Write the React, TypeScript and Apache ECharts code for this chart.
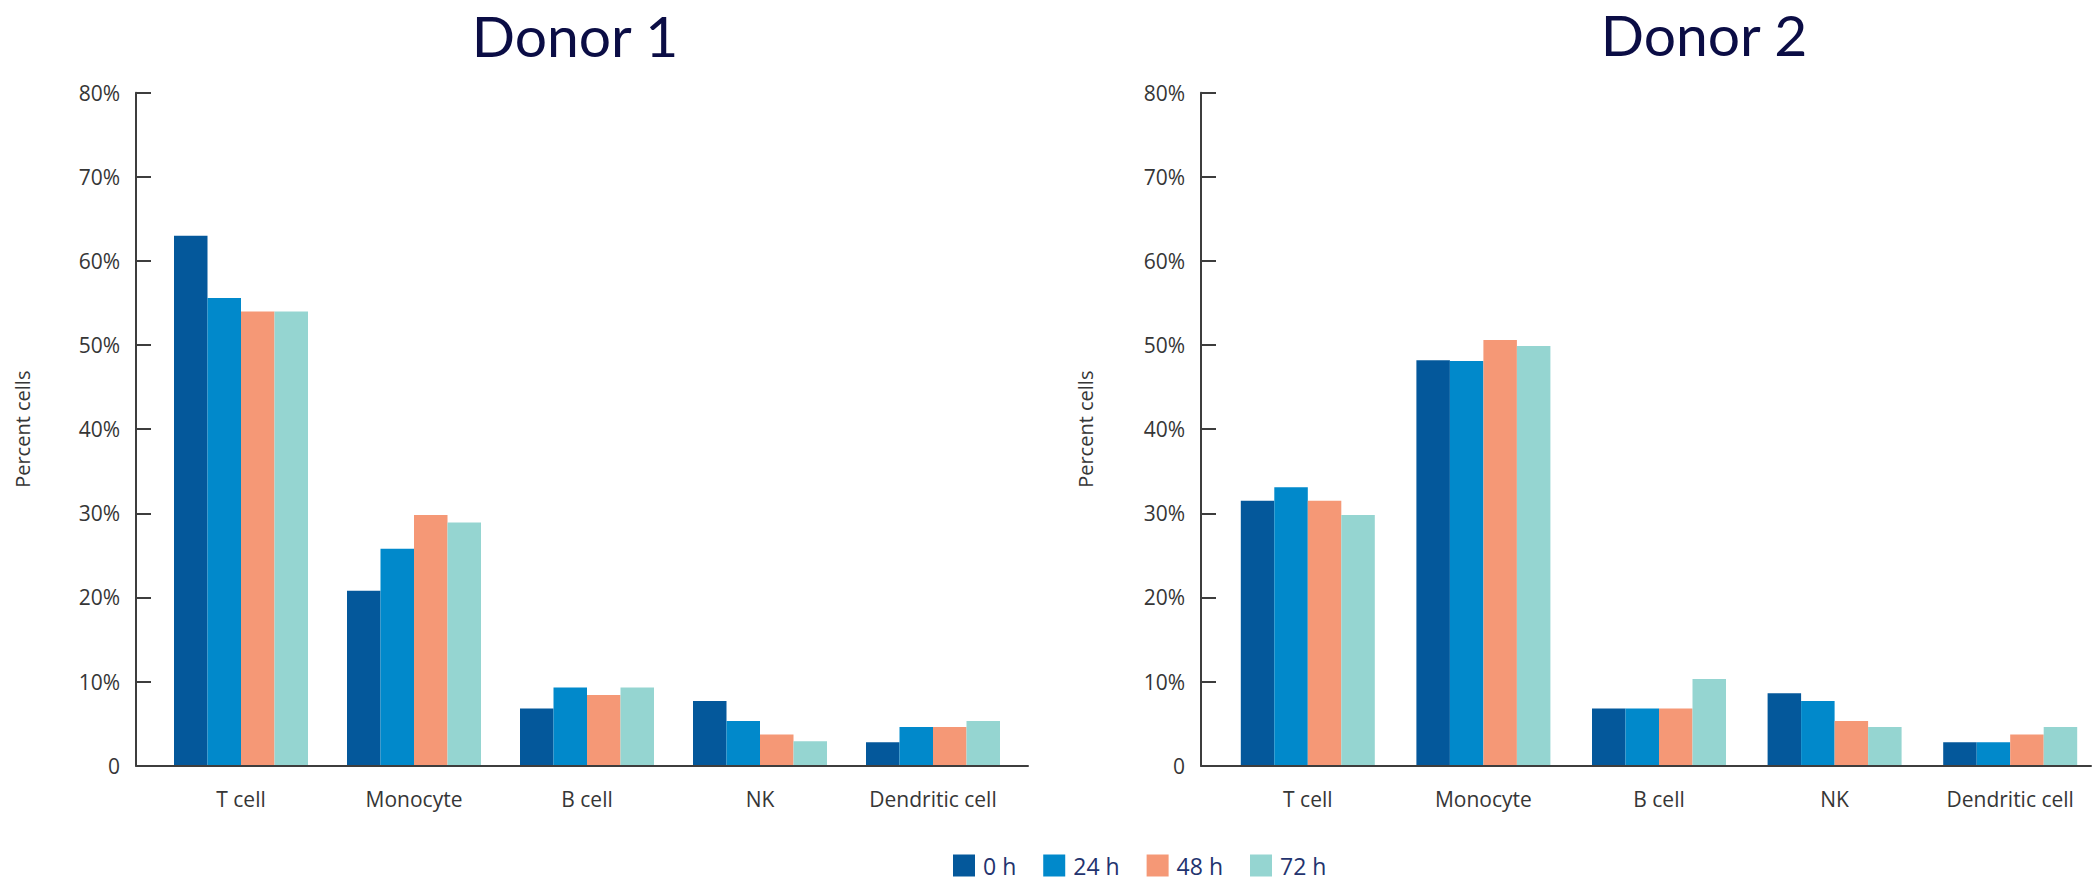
import React, { useEffect, useRef } from "react";
import * as echarts from "echarts";

const categories = ["T cell", "Monocyte", "B cell", "NK", "Dendritic cell"];
const timepoints = ["0 h", "24 h", "48 h", "72 h"];
const colors = ["#04589b", "#0189cb", "#f59876", "#95d5d1"];
const yTicks = [0, 10, 20, 30, 40, 50, 60, 70, 80];

const donor1_0h = [63.0, 20.8, 6.8, 7.7, 2.8];
const donor1_24h = [55.6, 25.8, 9.3, 5.3, 4.6];
const donor1_48h = [54.0, 29.8, 8.4, 3.7, 4.6];
const donor1_72h = [54.0, 28.9, 9.3, 2.9, 5.3];

const donor2_0h = [31.5, 48.2, 6.8, 8.6, 2.8];
const donor2_24h = [33.1, 48.1, 6.8, 7.7, 2.8];
const donor2_48h = [31.5, 50.6, 6.8, 5.3, 3.7];
const donor2_72h = [29.8, 49.9, 10.3, 4.6, 4.6];

const donor1 = [donor1_0h, donor1_24h, donor1_48h, donor1_72h];
const donor2 = [donor2_0h, donor2_24h, donor2_48h, donor2_72h];

const FONT = "'Open Sans', 'Noto Sans', sans-serif";
const AXIS_COLOR = "#3d3d3d";
const TEXT_COLOR = "#363636";

export default function App() {
  const ref = useRef<HTMLDivElement>(null);

  useEffect(() => {
    if (!ref.current) return;
    const chart = echarts.init(ref.current, undefined, { renderer: "svg" });

    const top = 92.7;
    const height = 673;

    const barXAxis = (gridIndex: number) => ({
      type: "category",
      gridIndex,
      data: categories,
      axisLine: { show: false },
      axisTick: { show: false },
      axisLabel: { color: TEXT_COLOR, fontSize: 21, fontFamily: FONT, margin: 23 },
      splitLine: { show: false },
    });
    const frameXAxis = (gridIndex: number) => ({
      type: "value",
      gridIndex,
      min: 0,
      max: 1,
      z: 5,
      axisLine: { show: true, lineStyle: { color: AXIS_COLOR, width: 2 } },
      axisTick: { show: false },
      axisLabel: { show: false },
      splitLine: { show: false },
    });
    const hiddenYAxis = (gridIndex: number) => ({
      type: "value",
      gridIndex,
      min: yTicks[0],
      max: yTicks[yTicks.length - 1],
      show: false,
    });
    const frameYAxis = (gridIndex: number, gap: number) => ({
      type: "value",
      gridIndex,
      min: yTicks[0],
      max: yTicks[yTicks.length - 1],
      interval: 10,
      z: 5,
      name: "Percent cells",
      nameLocation: "middle",
      nameGap: gap,
      nameTextStyle: { color: TEXT_COLOR, fontSize: 20, fontFamily: FONT, padding: [0, 0, 26, 0] },
      axisLine: { show: true, lineStyle: { color: AXIS_COLOR, width: 2 } },
      axisTick: { show: true, inside: true, length: 15, lineStyle: { color: AXIS_COLOR, width: 2 } },
      axisLabel: {
        color: TEXT_COLOR,
        fontSize: 21,
        fontFamily: FONT,
        margin: 16,
        formatter: (v: number) => (v === 0 ? "0" : `${v}%`),
      },
      splitLine: { show: false },
    });

    const makeSeries = (data: number[][], axisIndex: number) =>
      data.map((vals, i) => ({
        type: "bar",
        name: timepoints[i],
        xAxisIndex: axisIndex,
        yAxisIndex: axisIndex,
        data: vals,
        barWidth: 33.5,
        barGap: "0%",
        itemStyle: { color: colors[i] },
      }));

    const titleStyle = {
      color: "#0b0d45",
      fontSize: 57,
      lineHeight: 42,
      fontWeight: "normal",
      fontFamily: "Lato, 'Open Sans', sans-serif",
    };

    chart.setOption({
      animation: false,
      backgroundColor: "#ffffff",
      title: [
        { text: "Donor 1", left: 575, top: 14, textAlign: "center", padding: 0, textStyle: titleStyle },
        { text: "Donor 2", left: 1704, top: 13, textAlign: "center", padding: 0, textStyle: titleStyle },
      ],
      legend: {
        data: timepoints,
        left: 953,
        top: 854,
        padding: 0,
        icon: "rect",
        itemWidth: 22,
        itemHeight: 22,
        itemGap: 27,
        textStyle: { color: "#23336e", fontSize: 23, lineHeight: 22, fontFamily: FONT, padding: [0, 0, 0, 3] },
      },
      grid: [
        { left: 154.5, width: 865, top, height },
        { left: 136, width: 892, top, height },
        { left: 1220, width: 880, top, height },
        { left: 1201, width: 890, top, height },
      ],
      xAxis: [barXAxis(0), frameXAxis(1), barXAxis(2), frameXAxis(3)],
      yAxis: [hiddenYAxis(0), frameYAxis(1, 78), hiddenYAxis(2), frameYAxis(3, 80)],
      series: [...makeSeries(donor1, 0), ...makeSeries(donor2, 2)],
    });

    return () => chart.dispose();
  }, []);

  return (
    <div
      ref={ref}
      style={{ position: "absolute", left: 0, top: 0, width: 2098, height: 882, background: "#fff" }}
    />
  );
}
